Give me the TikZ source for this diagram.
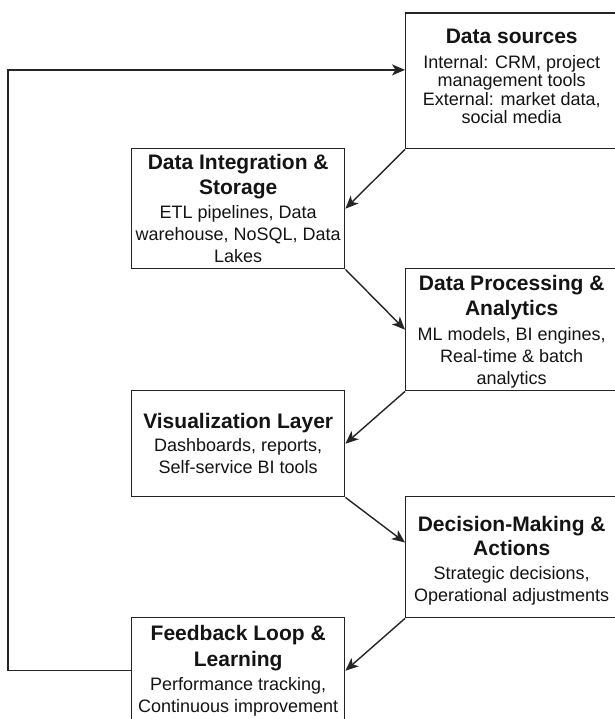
\documentclass[tikz,border=0pt]{standalone}
\usepackage{fontspec}
\setmainfont{Liberation Sans}
\usetikzlibrary{arrows.meta,calc}
\definecolor{ink}{HTML}{141414}
\definecolor{edge}{HTML}{252525}
\newcommand\stagetitle[1]{{\fontsize{21}{25}\selectfont\bfseries #1}}
\begin{document}
\begin{tikzpicture}[x=1pt,y=-1pt,
  stage/.style={draw=edge, line width=1.4pt, rectangle, anchor=north west,
    inner sep=0pt, align=center, text=ink, font=\fontsize{18}{22}\selectfont},
  leftbox/.style={stage, minimum width=213pt},
  rightbox/.style={stage, minimum width=212pt},
  flow/.style={draw=edge, line width=1.4pt, -{Stealth[length=13pt,width=11pt,inset=3.5pt]}}]
\useasboundingbox (0,0) rectangle (614,719);
\fill[white] (0,0) rectangle (614,719);

% stages of the pipeline, zig-zagging between two columns
\node[rightbox, minimum height=135.7pt, font=\fontsize{18}{18.5}\selectfont] (ds) at (405,12.3)
  {\stagetitle{Data sources}\\[6.5pt]
   Internal: CRM, project\\ management tools\\ External: market data,\\ social media\\[-9pt]\mbox{}};
\node[leftbox, minimum height=120pt] (di) at (131,148)
  {\stagetitle{Data Integration \&}\\[3pt]\stagetitle{Storage}\\[2pt]
   ETL pipelines, Data\\ warehouse, NoSQL, Data\\ Lakes};
\node[rightbox, minimum height=122pt] (dp) at (405,268)
  {\mbox{}\\[-2pt]\stagetitle{Data Processing \&}\\[3pt]\stagetitle{Analytics}\\[3pt]
   ML models, BI engines,\\ Real-time \& batch\\ analytics};
\node[leftbox, minimum height=106pt] (viz) at (131,390)
  {\stagetitle{Visualization Layer}\\[1pt]
   Dashboards, reports,\\ Self-service BI tools};
\node[rightbox, minimum height=121pt] (dec) at (405,496)
  {\mbox{}\\[0pt]\stagetitle{Decision-Making \&}\\[2pt]\stagetitle{Actions}\\[2pt]
   Strategic decisions,\\ Operational adjustments};
\node[leftbox, minimum height=106pt] (fb) at (131,617)
  {\stagetitle{Feedback Loop \&}\\[4pt]\stagetitle{Learning}\\[2pt]
   Performance tracking,\\ Continuous improvement};

% entry points on the left edges of two boxes
\coordinate (dsin) at ($(ds.north west)!0.42!(ds.south west)$);
\coordinate (decin) at ($(dec.north west)!0.38!(dec.south west)$);

% forward flow
\draw[flow] (ds.south west) -- (di.east);
\draw[flow] (di.south east) -- (dp.west);
\draw[flow] (dp.south west) -- (viz.east);
\draw[flow] (viz.south east) -- (decin);
\draw[flow] (dec.south west) -- (fb.east);

% feedback loop back to the sources
\draw[flow] (fb.west) -- ++(-123,0) |- (dsin);
\end{tikzpicture}
\end{document}
